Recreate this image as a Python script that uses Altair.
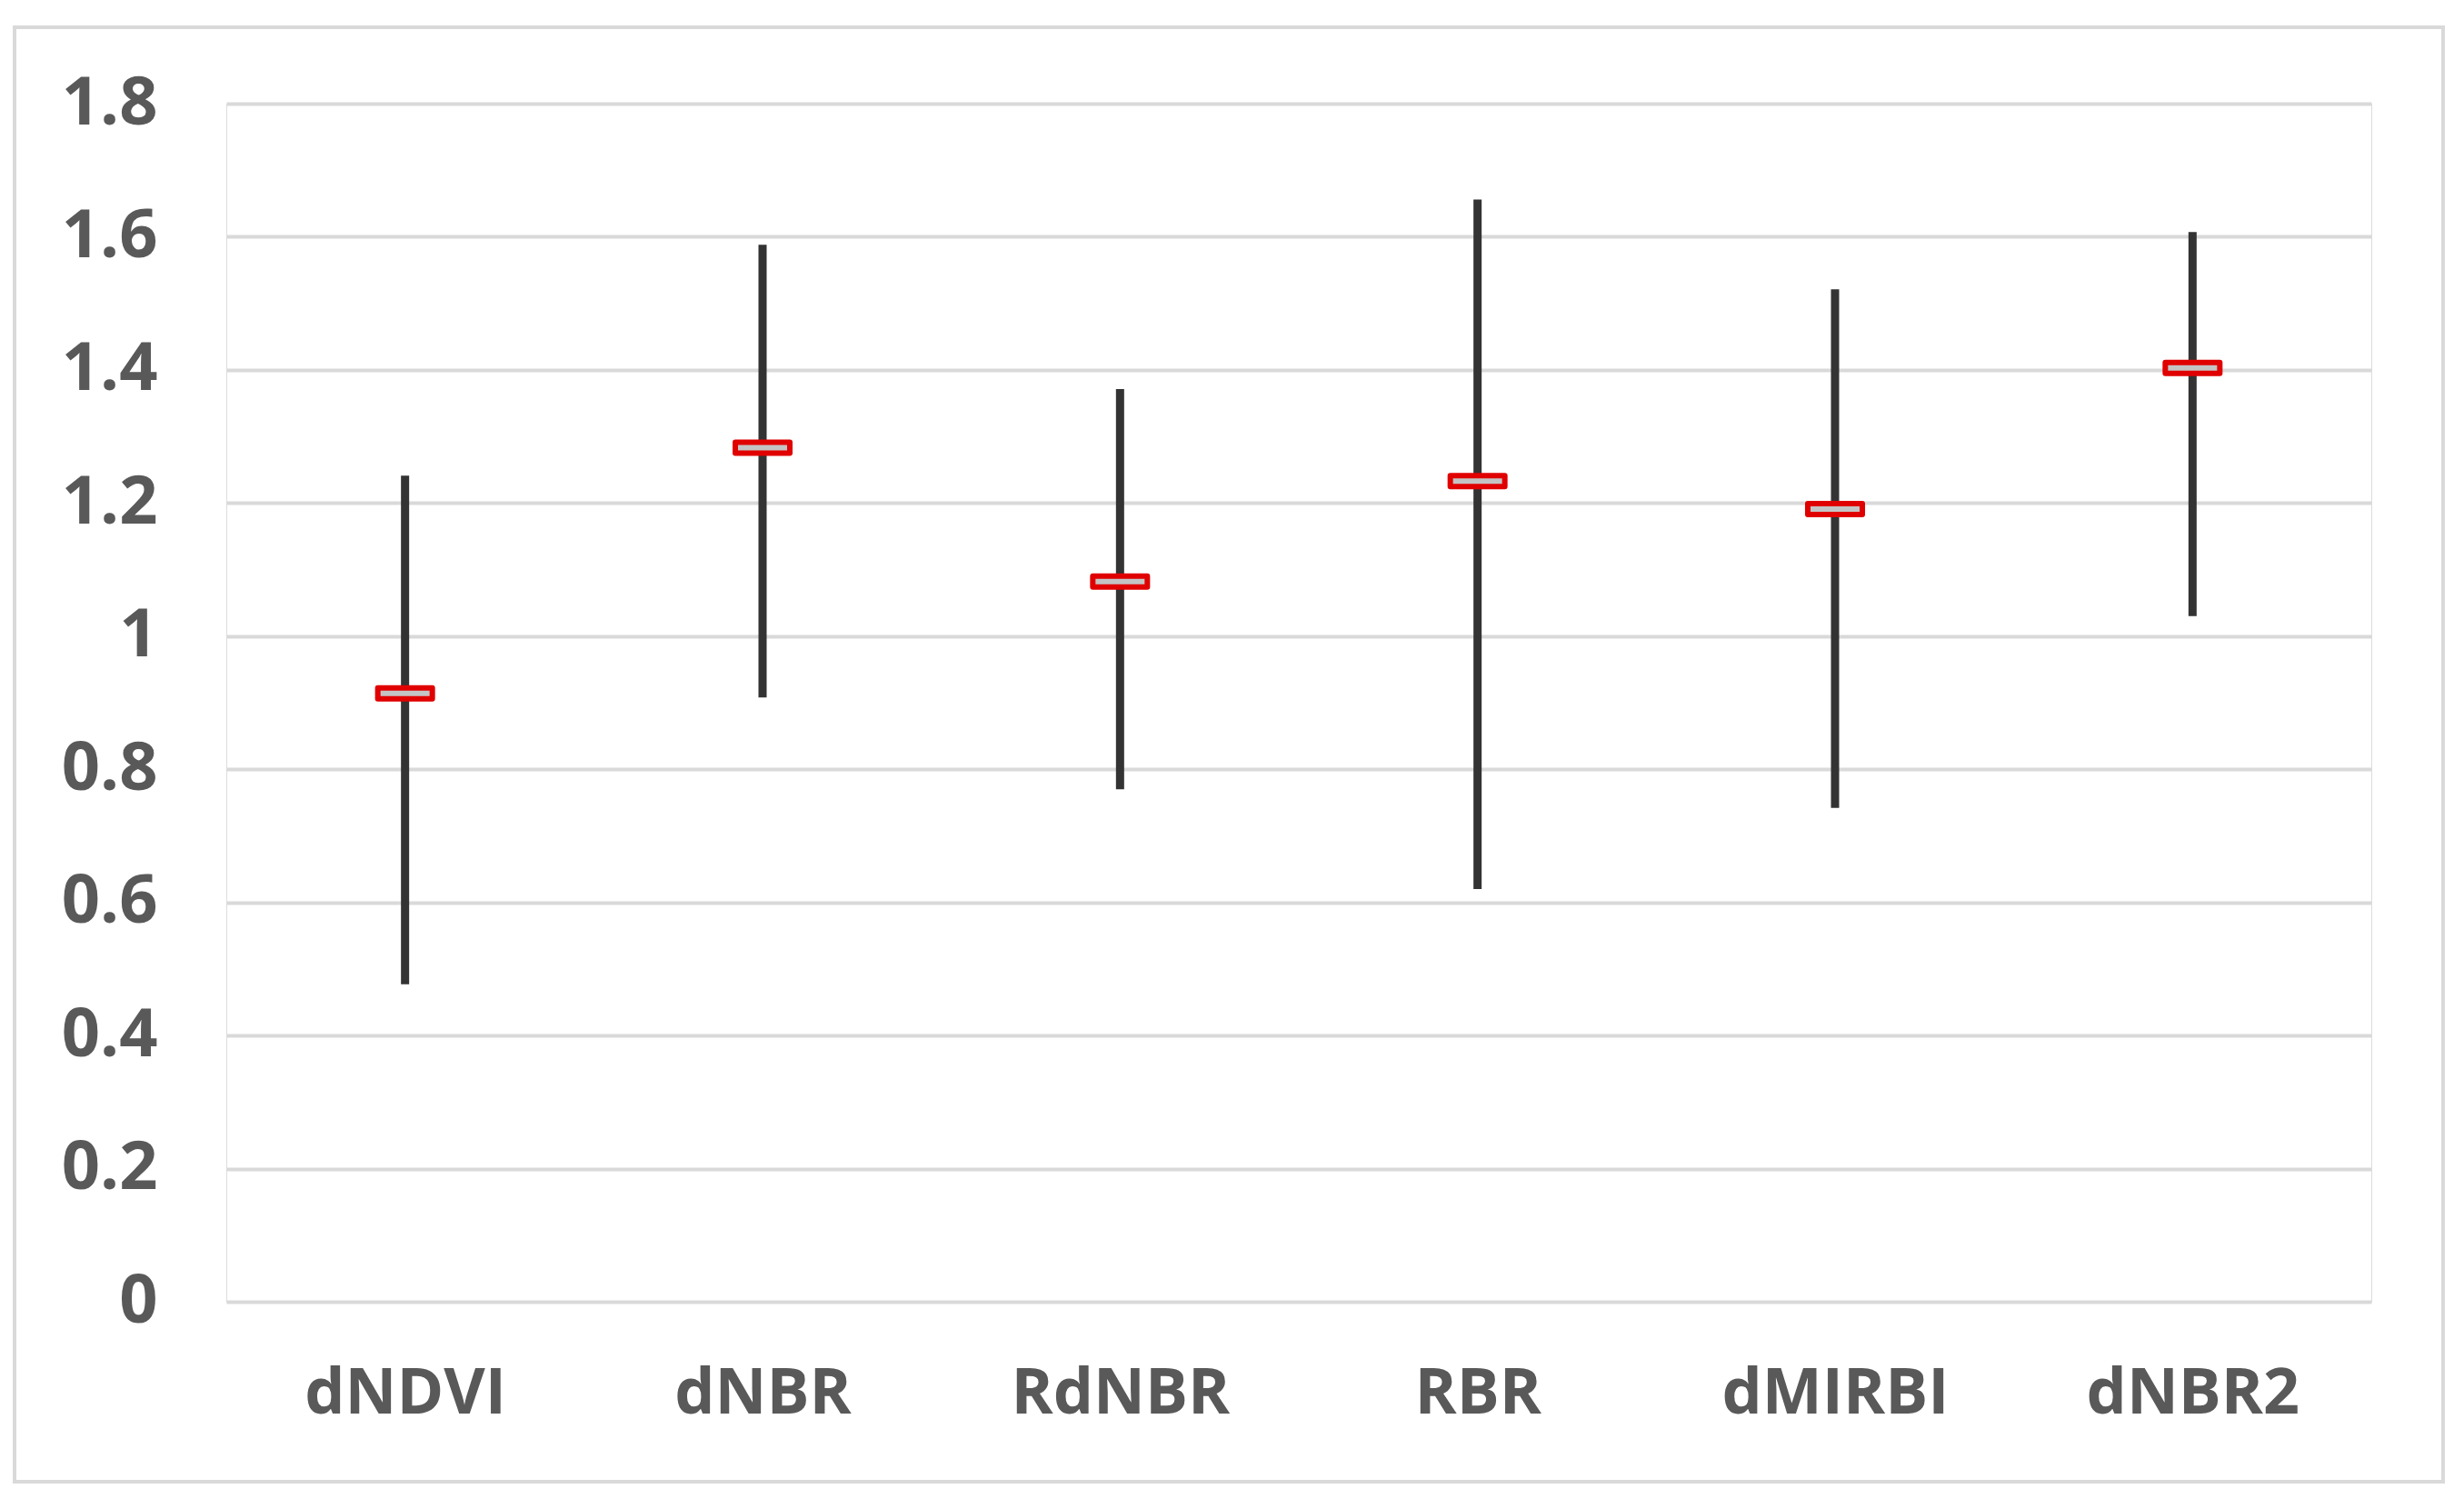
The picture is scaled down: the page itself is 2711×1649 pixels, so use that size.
import altair as alt
import pandas as pd

categories = ["dNDVI", "dNBR", "RdNBR", "RBR", "dMIRBI", "dNBR2"]
low = [0.477, 0.908, 0.770, 0.620, 0.742, 1.030]
high = [1.241, 1.588, 1.371, 1.656, 1.521, 1.607]
mid = [0.914, 1.283, 1.082, 1.233, 1.191, 1.403]
y_ticks = [0, 0.2, 0.4, 0.6, 0.8, 1.0, 1.2, 1.4, 1.6, 1.8]

df = pd.DataFrame({"cat": categories, "low": low, "high": high, "mid": mid})

FONT = "Open Sans"
LABEL_COLOR = "#595959"

x_scale = alt.Scale(type="point", padding=0.5)
x_enc = alt.X(
    "cat:N",
    sort=categories,
    scale=x_scale,
    axis=alt.Axis(
        title=None, domain=False, ticks=False, grid=False,
        labelFont=FONT, labelFontSize=70, labelFontWeight="bold",
        labelColor=LABEL_COLOR, labelPadding=67, labelAngle=0, labelLimit=0,
    ),
)
y_scale = alt.Scale(domain=[0, 1.8], nice=False, zero=True)

rules = alt.Chart(df).mark_rule(color="#333333", strokeWidth=9).encode(
    x=x_enc,
    y=alt.Y(
        "low:Q",
        scale=y_scale,
        axis=alt.Axis(
            title=None, values=y_ticks, domain=False, ticks=False,
            grid=True, gridColor="#d9d9d9", gridWidth=4,
            labelFont=FONT, labelFontSize=74, labelFontWeight="bold",
            labelColor=LABEL_COLOR, labelPadding=76,
            labelExpr="datum.value == 0 ? '0' : (datum.value == 1 ? '1' : format(datum.value, '.1f'))",
        ),
    ),
    y2="high:Q",
)

marker_shape = "M-1,-0.2 L1,-0.2 L1,0.2 L-1,0.2 Z"
markers = alt.Chart(df).mark_point(
    shape=marker_shape, filled=True, fill="#c4c4c4", stroke="#e00000",
    strokeWidth=6, size=3600, opacity=1, fillOpacity=1, strokeOpacity=1,
    strokeJoin="round",
).encode(
    x=alt.X("cat:N", sort=categories, scale=x_scale),
    y=alt.Y("mid:Q", scale=y_scale),
)

frame = alt.Chart(df).mark_rect(
    fill=None, stroke="#d9d9d9", strokeWidth=4, clip=False,
).encode(
    x=alt.value(-233), x2=alt.value(2439),
    y=alt.value(-84), y2=alt.value(1516),
)

chart = alt.layer(frame, rules, markers).properties(
    width=2360, height=1318,
    padding={"left": 241, "top": 106, "right": 90, "bottom": 210},
    autosize=alt.AutoSizeParams(type="none"),
).configure_view(stroke=None).configure(background="white")

chart.save("out.html", embed_options={"renderer": "svg", "actions": False})
